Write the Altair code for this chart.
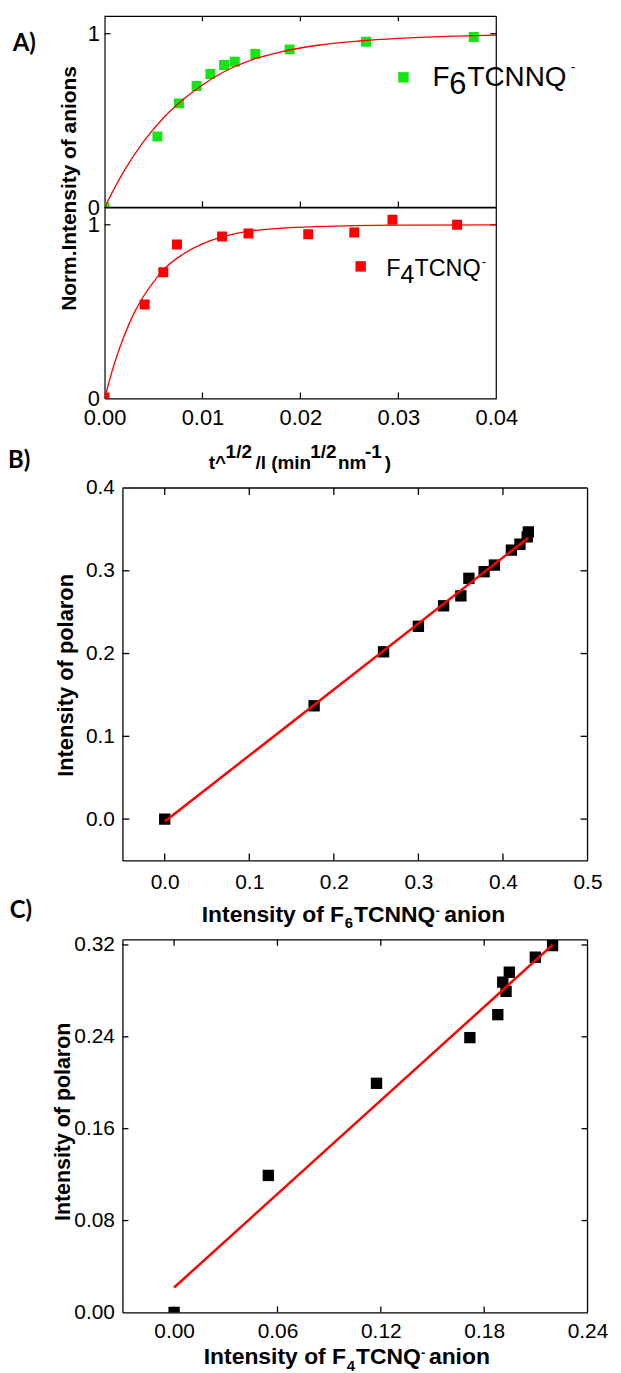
import altair as alt
import pandas as pd

# ---------------- data ----------------
# Panel A, upper: F6TCNNQ- normalised anion intensity vs t^1/2/l
f6_x = [0.0, 0.0054, 0.0076, 0.0094, 0.0108, 0.0122, 0.0133, 0.0154, 0.0189, 0.0267, 0.0377]
f6_y = [0.0, 0.408, 0.599, 0.699, 0.768, 0.820, 0.839, 0.883, 0.910, 0.954, 0.981]
f6_fit_x = [0.0, 0.002, 0.004, 0.006, 0.008, 0.010, 0.012, 0.015, 0.018, 0.022, 0.026, 0.030, 0.035, 0.040]
f6_fit_y = [0.0, 0.21, 0.38, 0.515, 0.62, 0.705, 0.775, 0.85, 0.895, 0.935, 0.958, 0.973, 0.985, 0.992]

# Panel A, lower: F4TCNQ-
f4_x = [0.0, 0.0041, 0.0060, 0.0074, 0.0120, 0.0147, 0.0208, 0.0255, 0.0294, 0.0360]
f4_y = [0.005, 0.541, 0.727, 0.887, 0.933, 0.950, 0.945, 0.956, 1.029, 1.0]
f4_fit_x = [0.0, 0.001, 0.002, 0.003, 0.004, 0.005, 0.006, 0.008, 0.010, 0.012, 0.015, 0.018, 0.022, 0.030, 0.040]
f4_fit_y = [0.0, 0.20, 0.36, 0.49, 0.59, 0.67, 0.74, 0.83, 0.89, 0.93, 0.965, 0.98, 0.99, 0.998, 1.0]

# Panel B: polaron vs F6TCNNQ- anion
b_x = [0.0, 0.1767, 0.2588, 0.300, 0.3298, 0.3502, 0.3597, 0.3777, 0.3899, 0.410, 0.4201, 0.4287, 0.430]
b_y = [0.0, 0.1369, 0.2021, 0.2329, 0.2577, 0.2697, 0.2909, 0.2989, 0.3069, 0.325, 0.3321, 0.3409, 0.347]
b_fit_x = [0.0, 0.430]
b_fit_y = [-0.003, 0.340]

# Panel C: polaron vs F4TCNQ- anion
c_x = [0.0, 0.0547, 0.1175, 0.1717, 0.1879, 0.1908, 0.1927, 0.1946, 0.2097, 0.2197]
c_y = [0.0, 0.1193, 0.1995, 0.2393, 0.2593, 0.2876, 0.2795, 0.2962, 0.3093, 0.3194]
c_fit_x = [0.0, 0.2197]
c_fit_y = [0.0217, 0.320]

# axis ticks / domains
a_xticks = [0.0, 0.01, 0.02, 0.03, 0.04]
a_yticks = [0, 1]
a_xdom, a_ydom = [0.0, 0.04], [0.0, 1.1]
b_xticks = [0.0, 0.1, 0.2, 0.3, 0.4, 0.5]
b_yticks = [0.0, 0.1, 0.2, 0.3, 0.4]
b_xdom, b_ydom = [-0.05, 0.5], [-0.05, 0.4]
c_xticks = [0.0, 0.06, 0.12, 0.18, 0.24]
c_yticks = [0.0, 0.08, 0.16, 0.24, 0.32]
c_xdom, c_ydom = [-0.03, 0.24], [0.0, 0.3245]

FONT = "Liberation Sans"
GREEN = "#14e614"
RED = "#ff0000"

dummy = pd.DataFrame({"k": [0]})


def txt(s, x, y, size, bold=True, align="left", baseline="alphabetic", angle=0, font=FONT):
    kw = dict(text=s, fontSize=size, fontWeight="bold" if bold else "normal",
              align=align, baseline=baseline, font=font, color="black")
    if angle:
        kw["angle"] = angle
    return alt.Chart(dummy).mark_text(**kw).encode(x=alt.value(x), y=alt.value(y))


def df_xy(xs, ys):
    return pd.DataFrame({"x": xs, "y": ys})


def mk_axis(values, fmt, labels, size, pad, offset=0, dw=1.2):
    kw = dict(values=values, format=fmt, labels=labels, ticks=False, domain=True,
              domainColor="black", domainWidth=dw, grid=False, title=None,
              labelFont=FONT, labelFontSize=size, labelColor="black",
              labelPadding=pad, labelOverlap=False, labelFlush=False)
    if offset:
        kw["offset"] = offset
    return alt.Axis(**kw)


class Panel:
    def __init__(self, xs, ys, xax, yax, W, H, x0, xdom, ydom, dw):
        self.xs, self.ys, self.xax, self.yax = xs, ys, xax, yax
        self.W, self.H, self.x0, self.xdom, self.ydom, self.dw = W, H, x0, xdom, ydom, dw

    def X(self, f):
        return alt.X(f, scale=self.xs, axis=self.xax)

    def Y(self, f):
        return alt.Y(f, scale=self.ys, axis=self.yax)

    def frame(self, ticks, top_edge=True):
        dw = self.dw
        layers = []
        # right edge
        layers.append(
            alt.Chart(pd.DataFrame({"x": [self.xdom[1]], "y": [self.ydom[0]], "y2": [self.ydom[1]]}))
            .mark_rule(color="black", strokeWidth=dw)
            .encode(x=self.X("x:Q"), y=self.Y("y:Q"), y2="y2:Q")
        )
        if top_edge:
            layers.append(
                alt.Chart(pd.DataFrame({"x": [self.xdom[0]], "x2": [self.xdom[1]], "y": [self.ydom[1]]}))
                .mark_rule(color="black", strokeWidth=dw)
                .encode(x=self.X("x:Q"), x2="x2:Q", y=self.Y("y:Q"))
            )
        for side, vals, L in ticks:
            d = pd.DataFrame({"v": vals})
            r = alt.Chart(d).mark_rule(color="black", strokeWidth=dw)
            if side == "bottom":
                r = r.encode(x=self.X("v:Q"), y=alt.value(self.H), y2=alt.value(self.H - L))
            elif side == "top":
                r = r.encode(x=self.X("v:Q"), y=alt.value(0), y2=alt.value(L))
            elif side == "left":
                r = r.encode(y=self.Y("v:Q"), x=alt.value(self.x0), x2=alt.value(self.x0 + L))
            else:
                r = r.encode(y=self.Y("v:Q"), x=alt.value(self.W), x2=alt.value(self.W - L))
            layers.append(r)
        return layers

    def pts(self, xs_, ys_, color, size):
        return alt.Chart(df_xy(xs_, ys_)).mark_point(
            shape="square", filled=True, opacity=1, color=color, size=size, clip=True
        ).encode(x=self.X("x:Q"), y=self.Y("y:Q"))

    def fit(self, xs_, ys_, width, interp="linear"):
        return alt.Chart(df_xy(xs_, ys_)).mark_line(
            color=RED, strokeWidth=width, interpolate=interp, clip=True
        ).encode(x=self.X("x:Q"), y=self.Y("y:Q"))


def spacer(h):
    return alt.Chart(dummy).mark_point(opacity=0, size=0, strokeWidth=0).encode(
        x=alt.value(0), y=alt.value(0)).properties(width=10, height=h)


# ---------------- Panel A ----------------
AW, AH = 393.7, 192
ax_s = alt.Scale(domain=a_xdom, nice=False, zero=False)
ay_s = alt.Scale(domain=a_ydom, nice=False, zero=False)

pa1 = Panel(ax_s, ay_s, mk_axis(a_xticks, ".2f", False, 22, 9),
            mk_axis(a_yticks, "d", True, 22, 5), AW, AH, 0, a_xdom, a_ydom, 1.2)
a_top = alt.layer(
    *pa1.frame([("top", a_xticks[1:-1], 5), ("bottom", a_xticks[1:-1], 6),
                ("left", [1], 6), ("right", [1], 6)]),
    pa1.pts(f6_x, f6_y, GREEN, 100),
    pa1.fit(f6_fit_x, f6_fit_y, 1.3, "monotone"),
    alt.Chart(dummy).mark_point(shape="square", filled=True, opacity=1, color=GREEN, size=110)
    .encode(x=alt.value(300.4), y=alt.value(61.3)),
    txt("F", 329.7, 69.7, 28, bold=False),
    txt("6", 346.5, 78, 31, bold=False),
    txt("TCNNQ", 364.7, 69.7, 28, bold=False),
    txt("-", 468.5, 56, 14, bold=False),
    txt("A)", -92.3, 34.7, 24, font="Lato"),
    txt("Norm.Intensity of anions", -34.3, 173, 21, align="center", baseline="middle", angle=270),
).properties(width=AW, height=AH)

pa2 = Panel(ax_s, ay_s, mk_axis(a_xticks, ".2f", True, 22, 9),
            mk_axis(a_yticks, "d", True, 22, 5), AW, AH, 0, a_xdom, a_ydom, 1.2)
a_bot = alt.layer(
    *pa2.frame([("bottom", a_xticks[1:-1], 6), ("left", [1], 6), ("right", [1], 6)]),
    pa2.pts(f4_x, f4_y, RED, 100),
    pa2.fit(f4_fit_x, f4_fit_y, 1.3, "monotone"),
    alt.Chart(dummy).mark_point(shape="square", filled=True, opacity=1, color=RED, size=110)
    .encode(x=alt.value(257.4), y=alt.value(59.3)),
    txt("F", 283, 68.7, 23.5, bold=False),
    txt("4", 297.5, 76, 25, bold=False),
    txt("TCNQ", 311.4, 68.7, 23.5, bold=False),
    txt("-", 379, 59, 13, bold=False),
    # x-axis title  t^1/2/l (min1/2 nm-1)
    txt("t^", 104.7, 263, 19),
    txt("1/2", 121.7, 252, 19),
    txt("/l (min", 151.7, 263, 19),
    txt("1/2", 206.7, 252, 19),
    txt("nm", 234.7, 263, 19),
    txt("-1", 261.7, 252, 19),
    txt(")", 281.7, 263, 19),
).properties(width=AW, height=AH)

# ---------------- Panel B ----------------
BW, BH, BX0 = 485.4, 374.3, 18
bx_s = alt.Scale(domain=b_xdom, range=[BX0, BW], nice=False, zero=False)
by_s = alt.Scale(domain=b_ydom, nice=False, zero=False)
pb = Panel(bx_s, by_s, mk_axis(b_xticks, ".1f", True, 21, 11, dw=1.3),
           mk_axis(b_yticks, ".1f", True, 21, 8, offset=-BX0, dw=1.3),
           BW, BH, BX0, b_xdom, b_ydom, 1.3)
panel_b = alt.layer(
    *pb.frame([("top", b_xticks[:-1], 7), ("bottom", b_xticks[:-1], 7),
               ("left", b_yticks[:-1], 7), ("right", b_yticks[:-1], 7)]),
    pb.pts(b_x, b_y, "black", 130),
    pb.fit(b_fit_x, b_fit_y, 2.5),
    txt("B)", -97, -19.7, 24, font="Lato"),
    txt("Intensity of polaron", -38.3, 188.3, 22, align="center", baseline="middle", angle=270),
    txt("Intensity of F", 97.7, 436, 23),
    txt("6", 241.4, 442.6, 15),
    txt("TCNNQ", 250.7, 436, 23),
    txt("-", 332.5, 429, 13),
    txt("anion", 341.4, 436, 23),
).properties(width=BW, height=BH)

# ---------------- Panel C ----------------
CW, CH, CX0 = 485.4, 374.5, 18
cx_s = alt.Scale(domain=c_xdom, range=[CX0, CW], nice=False, zero=False)
cy_s = alt.Scale(domain=c_ydom, nice=False, zero=False)
pc = Panel(cx_s, cy_s, mk_axis(c_xticks, ".2f", True, 21, 8, dw=1.3),
           mk_axis(c_yticks, ".2f", True, 21, 8, offset=-CX0, dw=1.3),
           CW, CH, CX0, c_xdom, c_ydom, 1.3)
panel_c = alt.layer(
    *pc.frame([("top", c_xticks[:-1], 6), ("bottom", c_xticks[:-1], 6),
               ("left", c_yticks[1:], 6), ("right", c_yticks[1:], 6)]),
    pc.pts(c_x, c_y, "black", 130),
    pc.fit(c_fit_x, c_fit_y, 2.5),
    txt("C)", -95.3, -21.8, 24, font="Lato"),
    txt("Intensity of polaron", -40.3, 183, 21.5, align="center", baseline="middle", angle=270),
    txt("Intensity of F", 99.7, 426.5, 23),
    txt("4", 243.4, 433, 15),
    txt("TCNQ", 252.7, 426.5, 23),
    txt("-", 318, 419.5, 13),
    txt("anion", 326, 426.5, 23),
).properties(width=CW, height=CH)

chart = alt.vconcat(
    a_top, a_bot, spacer(89.7), panel_b, spacer(78.5), panel_c,
    spacing=0, bounds="flush",
).properties(
    padding={"left": 0, "top": 4, "right": 5, "bottom": 0}
).configure_view(stroke=None)

chart.save("out.html", embed_options={"renderer": "svg", "actions": False})
